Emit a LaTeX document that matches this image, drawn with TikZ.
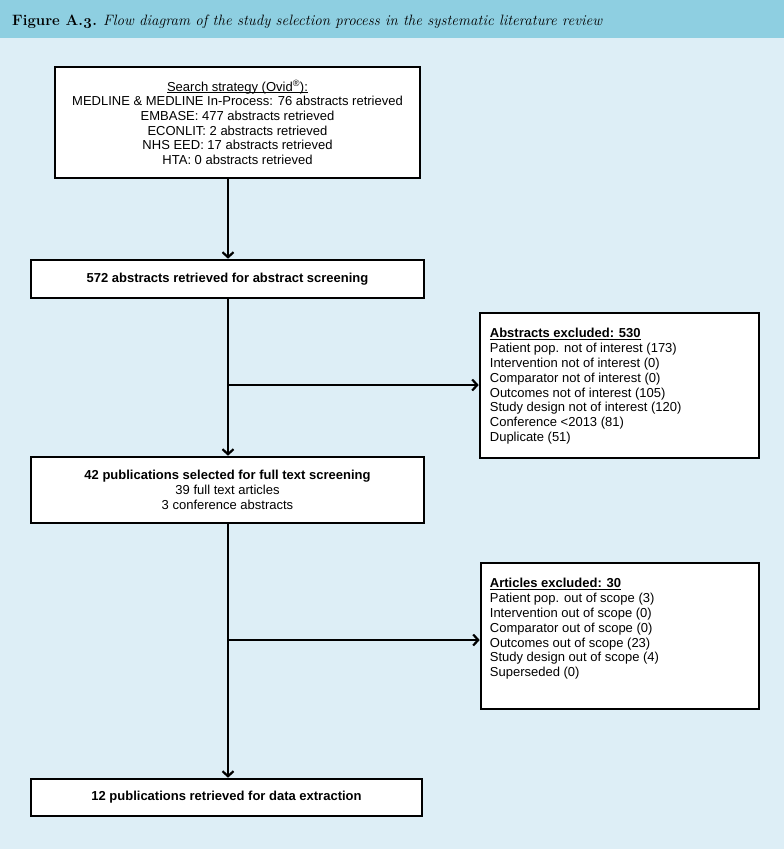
\documentclass[tikz,border=0pt]{standalone}
\usepackage{fontspec}
\setmainfont{Liberation Sans}
\newfontfamily\headfont{Latin Modern Roman}
\usetikzlibrary{arrows.meta,calc}
\definecolor{headbar}{RGB}{142,207,225}
\definecolor{bodybg}{RGB}{221,238,246}
\newcommand\myul[1]{\setbox0\hbox{#1}\rlap{\rule[-1.6pt]{\wd0}{0.8pt}}#1}
\tikzset{
  box/.style={draw=black, line width=2.6pt, fill=white, inner sep=0pt, align=center, font=\fontsize{13}{14.7}\selectfont},
  conn/.style={line width=2.2pt, -{Straight Barb[length=5pt,width=11pt]}},
  listtext/.style={inner sep=0pt, align=left, anchor=north west, font=\fontsize{13}{14.8}\selectfont}
}
\begin{document}
\begin{tikzpicture}[x=1pt,y=-1pt]
\useasboundingbox (0,0) rectangle (784,849);
\fill[bodybg] (0,0) rectangle (784,849);
\fill[headbar] (0,0) rectangle (784,38);
\node[anchor=base west, inner sep=0pt, font=\headfont\fontsize{15}{17}\selectfont] (title) at (12,25)
  {\textbf{Figure A.\oldstylenums{3}.} \textit{Flow diagram of the study selection process in the systematic literature review}};

\node[box, minimum width=365pt, minimum height=111pt] (search) at (237.5,122.5)
  {\myul{Search strategy (Ovid\textsuperscript{®}):}\\
   MEDLINE \& MEDLINE In-Process: 76 abstracts retrieved\\
   EMBASE: 477 abstracts retrieved\\
   ECONLIT: 2 abstracts retrieved\\
   NHS EED: 17 abstracts retrieved\\
   HTA: 0 abstracts retrieved};

\node[box, minimum width=393pt, minimum height=38pt, font=\bfseries\fontsize{13}{14.7}\selectfont] (s572) at (227.5,279)
  {572 abstracts retrieved for abstract screening};

\node[box, minimum width=393pt, minimum height=66pt] (s42) at (227.5,490)
  {\textbf{42 publications selected for full text screening}\\
   39 full text articles\\
   3 conference abstracts};

\node[box, minimum width=391pt, minimum height=37pt, font=\bfseries\fontsize{13}{14.7}\selectfont] (s12) at (226.5,797.5)
  {12 publications retrieved for data extraction};

\node[box, minimum width=279pt, minimum height=145pt] (exc1) at (619.5,385.5) {};
\node[listtext] (exc1t) at ($(exc1.north west)+(11,16.5)$)
  {\textbf{\myul{Abstracts excluded: 530}}\\
   Patient pop. not of interest (173)\\
   Intervention not of interest (0)\\
   Comparator not of interest (0)\\
   Outcomes not of interest (105)\\
   Study design not of interest (120)\\
   Conference <2013 (81)\\
   Duplicate (51)};

\node[box, minimum width=278pt, minimum height=146pt] (exc2) at (620,636) {};
\node[listtext] (exc2t) at ($(exc2.north west)+(10,16.5)$)
  {\textbf{\myul{Articles excluded: 30}}\\
   Patient pop. out of scope (3)\\
   Intervention out of scope (0)\\
   Comparator out of scope (0)\\
   Outcomes out of scope (23)\\
   Study design out of scope (4)\\
   Superseded (0)};

\coordinate (j1) at (228,385);
\coordinate (j2) at (228,640);

\draw[conn] (search.south -| j1) -- (s572.north -| j1);
\draw[conn] (s572.south -| j1) -- (s42.north -| j1);
\draw[conn] (j1) -- (j1 -| exc1.west);
\draw[conn] (s42.south -| j1) -- (s12.north -| j1);
\draw[conn] (j2) -- (j2 -| exc2.west);
\end{tikzpicture}
\end{document}
